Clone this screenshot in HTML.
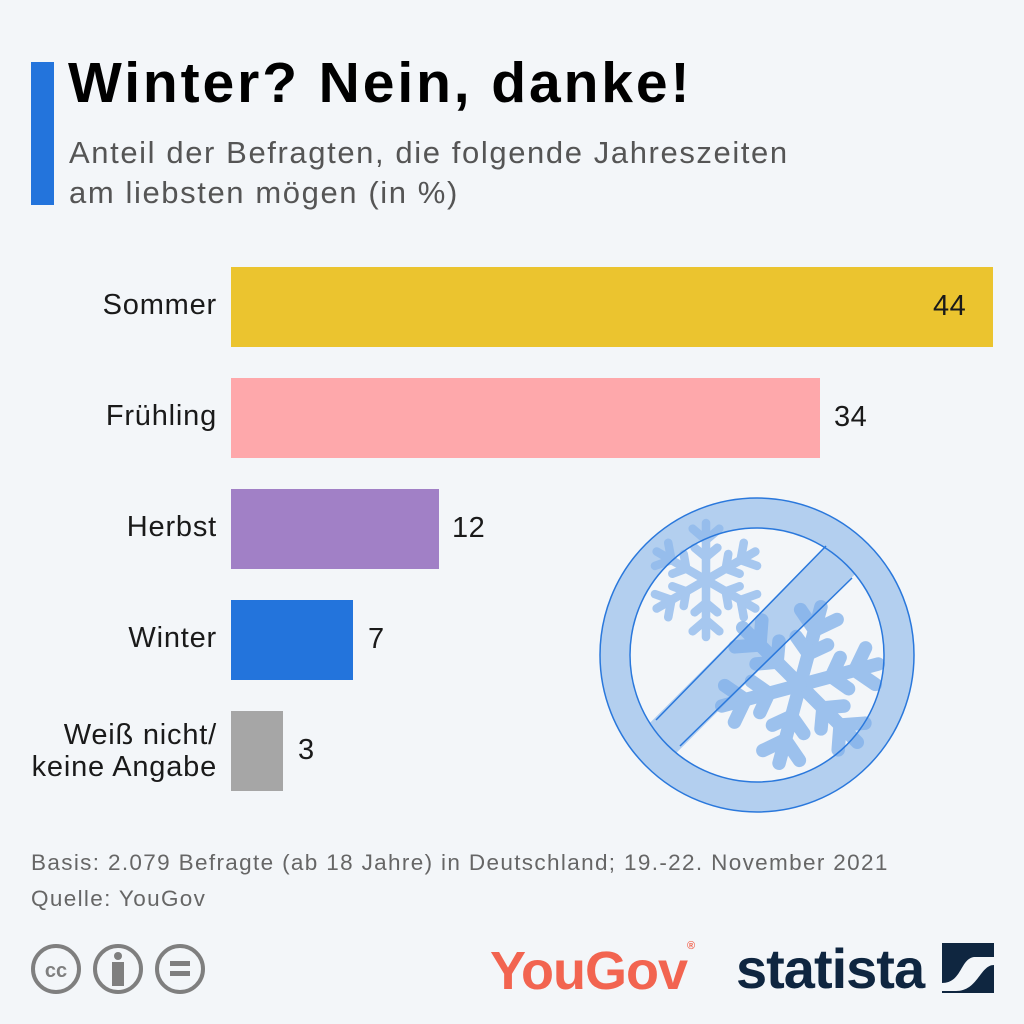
<!DOCTYPE html>
<html><head><meta charset="utf-8"><style>
body{margin:0;width:1024px;height:1024px;background:#f3f6f9;font-family:"Liberation Sans",sans-serif;position:relative;overflow:hidden}
.a{position:absolute}
.lbl{position:absolute;right:807px;font-size:29px;letter-spacing:0.8px;color:#1a1a1a;text-align:right;line-height:32px}
.bar{position:absolute;left:231px;height:80px}
.val{position:absolute;font-size:29px;letter-spacing:0.5px;color:#1a1a1a}
</style></head><body>
<div class="a" style="left:31px;top:62px;width:23px;height:143px;background:#2374dc"></div>
<div class="a" style="left:68px;top:50px;font-size:57px;letter-spacing:2.9px;font-weight:bold;color:#000">Winter? Nein, danke!</div>
<div class="a" style="left:69px;top:133px;font-size:31px;letter-spacing:1.6px;line-height:40px;color:#555">Anteil der Befragten, die folgende Jahreszeiten<br>am liebsten mögen (in %)</div>

<svg class="a" style="left:0;top:0" width="1024" height="1024">
<defs><g id="sf" stroke-linecap="round" fill="none">
<g id="arm"><line x1="0" y1="0" x2="0" y2="-60"/><polyline points="-14,-54 0,-42 14,-54"/><polyline points="-12,-34 0,-24 12,-34"/></g>
<use href="#arm" transform="rotate(60)"/><use href="#arm" transform="rotate(120)"/><use href="#arm" transform="rotate(180)"/><use href="#arm" transform="rotate(240)"/><use href="#arm" transform="rotate(300)"/>
</g>
<clipPath id="c"><circle cx="757" cy="655" r="130"/></clipPath></defs>
<circle cx="757" cy="655" r="142" fill="none" stroke="#b3cfef" stroke-width="30"/>
<line x1="920" y1="481" x2="590" y2="811" stroke="#b3cfef" stroke-width="40" clip-path="url(#c)"/>
<g stroke="#8db8ec" stroke-width="9" opacity="0.75"><use href="#sf" transform="translate(706,580) scale(0.95)"/></g>
<g stroke="#7fb0ea" stroke-width="10" opacity="0.75"><use href="#sf" transform="translate(800,685) rotate(15) scale(1.35)"/></g>
<circle cx="757" cy="655" r="157" fill="none" stroke="#2a78dc" stroke-width="1.5"/>
<circle cx="757" cy="655" r="127" fill="none" stroke="#2a78dc" stroke-width="1.5"/>
<line x1="826" y1="546" x2="656" y2="720" stroke="#2a78dc" stroke-width="1.5"/>
<line x1="852" y1="578" x2="680" y2="746" stroke="#2a78dc" stroke-width="1.5"/>
</svg>

<div class="lbl" style="top:289px">Sommer</div>
<div class="bar" style="top:267px;width:762px;background:#ebc42f"></div>
<div class="val" style="left:933px;top:290px">44</div>
<div class="lbl" style="top:400px">Frühling</div>
<div class="bar" style="top:378px;width:589px;background:#fea8ab"></div>
<div class="val" style="left:834px;top:401px">34</div>
<div class="lbl" style="top:511px">Herbst</div>
<div class="bar" style="top:489px;width:208px;background:#a180c6"></div>
<div class="val" style="left:452px;top:512px">12</div>
<div class="lbl" style="top:622px">Winter</div>
<div class="bar" style="top:600px;width:122px;background:#2374dc"></div>
<div class="val" style="left:368px;top:623px">7</div>
<div class="lbl" style="top:719px">Weiß nicht/<br>keine Angabe</div>
<div class="bar" style="top:711px;width:52px;background:#a6a6a6"></div>
<div class="val" style="left:298px;top:734px">3</div>

<div class="a" style="left:31px;top:845px;font-size:22.5px;letter-spacing:1.35px;line-height:36px;color:#666">Basis: 2.079 Befragte (ab 18 Jahre) in Deutschland; 19.-22. November 2021<br>Quelle: YouGov</div>

<svg class="a" style="left:28px;top:942px" width="180" height="56">
<g fill="none" stroke="#7f7f7f" stroke-width="4"><circle cx="28" cy="27" r="23"/><circle cx="90" cy="27" r="23"/><circle cx="152" cy="27" r="23"/></g>
<text x="28" y="35" font-size="20" font-weight="bold" fill="#7f7f7f" text-anchor="middle" font-family="Liberation Sans">cc</text>
<circle cx="90" cy="14" r="4" fill="#7f7f7f"/><rect x="84" y="20" width="12" height="24" fill="#7f7f7f"/>
<rect x="142" y="19" width="20" height="5" fill="#7f7f7f"/><rect x="142" y="29" width="20" height="5" fill="#7f7f7f"/>
</svg>
<div class="a" style="left:490px;top:940px;font-size:54px;font-weight:bold;color:#f26450;letter-spacing:-1px">YouGov<span style="font-size:11px;vertical-align:top">®</span></div>
<div class="a" style="left:736px;top:936px;font-size:56px;font-weight:bold;color:#0f2640;letter-spacing:-1px">statista</div>
<svg class="a" style="left:942px;top:943px" width="52" height="50"><rect width="52" height="50" fill="#0f2640"/><path d="M0 40 C20 40 18 16 32 14 L52 14 L52 22 C38 22 36 48 14 48 L0 48Z" fill="#f3f6f9"/></svg>
</body></html>
